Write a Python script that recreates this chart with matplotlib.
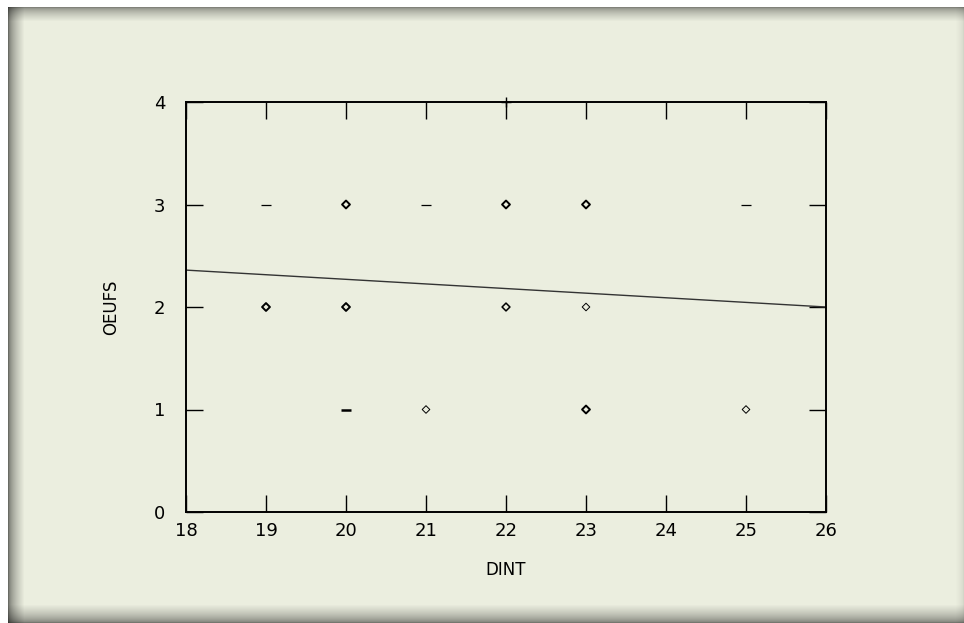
import numpy as np
import matplotlib
matplotlib.use("Agg")
import matplotlib.pyplot as plt

# Data
bold_x = [20, 22, 23, 19, 20, 23]          # heavy diamonds
bold_y = [3, 3, 3, 2, 2, 1]
mid_x = [22]                               # normal diamonds
mid_y = [2]
thin_x = [23, 21, 25]                      # light diamonds
thin_y = [2, 1, 1]
dash_x = [19, 21, 25]                      # dash symbols
dash_y = [3, 3, 3]
dash_bold_x = [20]
dash_bold_y = [1]
plus_x = [22]
plus_y = [4]
fit_x = [18, 26]                           # fitted line end points
fit_y = [2.36, 2.0]

xticks = [18, 19, 20, 21, 22, 23, 24, 25, 26]
yticks = [0, 1, 2, 3, 4]

W, H = 964, 623
fig = plt.figure(figsize=(W / 100, H / 100), dpi=100)
fig.patch.set_facecolor("white")

# Background panel with a soft shadowed edge
bg = fig.add_axes([0, 0, 1, 1], zorder=-5)
panel = np.array([235, 238, 223]) / 255.0
yy, xx = np.mgrid[0:H, 0:W]
shade = np.ones((H, W))
left, top = 8, 7
shade *= np.clip((xx - left) / 16.0, 0, 1) ** 0.6 * 0.55 + 0.45
shade *= np.clip((yy - top) / 14.0, 0, 1) ** 0.6 * 0.45 + 0.55
shade *= np.clip((H - 1 - yy) / 18.0, 0, 1) ** 0.6 * 0.5 + 0.5
shade *= np.clip((W - 1 - xx) / 8.0, 0, 1) ** 0.6 * 0.1 + 0.9
img = panel[None, None, :] * shade[:, :, None]
img[(xx < left) | (yy < top)] = 1.0
bg.imshow(img, extent=[0, W, H, 0], aspect="auto", interpolation="nearest")
bg.set_xlim(0, W)
bg.set_ylim(H, 0)
bg.axis("off")

ax = fig.add_axes([186 / W, 1 - 512 / H, (826 - 186) / W, (512 - 102) / H])
ax.set_facecolor("none")

ax.plot(fit_x, fit_y, color="#333333", lw=1.0)
ax.scatter(bold_x, bold_y, marker="D", s=16, facecolors="none", edgecolors="black", linewidths=1.4)
ax.scatter(mid_x, mid_y, marker="D", s=16, facecolors="none", edgecolors="black", linewidths=1.1)
ax.scatter(thin_x, thin_y, marker="D", s=15, facecolors="none", edgecolors="black", linewidths=0.7)
ax.scatter(dash_x, dash_y, marker="_", s=60, color="black", linewidths=0.9)
ax.scatter(dash_bold_x, dash_bold_y, marker="_", s=50, color="black", linewidths=1.8)
ax.scatter(plus_x, plus_y, marker="+", s=60, color="black", linewidths=1.0, clip_on=False)

ax.set_xlim(18, 26)
ax.set_ylim(0, 4)
ax.set_xticks(xticks)
ax.set_yticks(yticks)
ax.tick_params(direction="in", length=12, width=1.0, top=True, right=True,
               labelsize=13, colors="black")
ax.tick_params(axis="x", pad=7)
ax.tick_params(axis="y", pad=15)
for s in ax.spines.values():
    s.set_linewidth(1.4)
    s.set_color("black")

ax.set_xlabel("DINT", fontsize=12, labelpad=15)
ax.set_ylabel("OEUFS", fontsize=12, labelpad=24)

fig.savefig("out.png", dpi=100)
